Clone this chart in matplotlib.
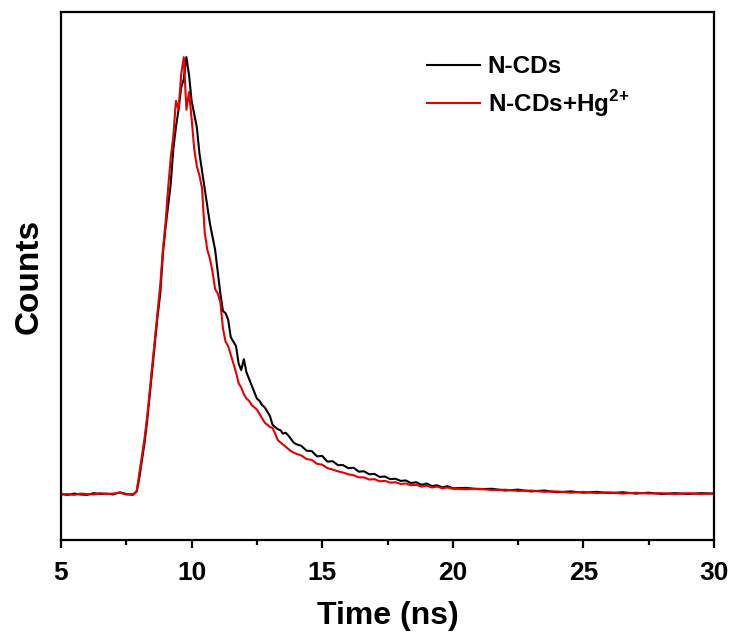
import matplotlib
matplotlib.use("Agg")
import matplotlib.pyplot as plt
import numpy as np

# Time-resolved PL decay, N-CDs with and without Hg2+
# values (normalised counts)

time_ns = [
    5.0, 5.25, 5.5, 5.75, 6.0, 6.25, 6.5, 6.75, 7.0, 7.25, 7.5, 7.75,
    7.8, 7.9, 8.0, 8.1, 8.2, 8.3, 8.4, 8.5, 8.6, 8.7, 8.8, 8.9,
    9.0, 9.1, 9.2, 9.3, 9.4, 9.5, 9.6, 9.7, 9.8, 9.9,
    10.0, 10.1, 10.2, 10.3, 10.4, 10.5, 10.6, 10.7, 10.8, 10.9,
    11.0, 11.1, 11.2, 11.3, 11.4, 11.5, 11.6, 11.7, 11.8, 11.9,
    12.0, 12.1, 12.2, 12.3, 12.4, 12.5, 12.6, 12.7, 12.8, 12.9,
    13.0, 13.1, 13.2, 13.3, 13.4, 13.5, 13.6, 13.7, 13.8, 13.9, 14.0,
    14.2, 14.4, 14.6, 14.8, 15.0, 15.2, 15.4, 15.6, 15.8, 16.0,
    16.2, 16.4, 16.6, 16.8, 17.0, 17.2, 17.4, 17.6, 17.8, 18.0,
    18.2, 18.4, 18.6, 18.8, 19.0, 19.2, 19.4, 19.6, 19.8, 20.0,
    20.5, 21.0, 21.5, 22.0, 22.5, 23.0, 23.5, 24.0, 24.5, 25.0,
    25.5, 26.0, 26.5, 27.0, 27.5, 28.0, 28.5, 29.0, 29.5, 30.0,
]

counts_ncds = [
    0.002, 0.000, 0.003, 0.001, 0.000, 0.004, 0.002, 0.003, 0.001, 0.006, 0.002, 0.000,
    0.003, 0.008, 0.04, 0.08, 0.12, 0.17, 0.23, 0.29, 0.35, 0.41, 0.46, 0.55,
    0.61, 0.66, 0.71, 0.79, 0.84, 0.88, 0.93, 0.95, 1.00, 0.96,
    0.90, 0.87, 0.84, 0.78, 0.74, 0.70, 0.66, 0.62, 0.59, 0.56,
    0.51, 0.46, 0.42, 0.415, 0.40, 0.36, 0.35, 0.34, 0.30, 0.285,
    0.31, 0.28, 0.265, 0.25, 0.235, 0.22, 0.215, 0.205, 0.20, 0.19,
    0.18, 0.16, 0.155, 0.15, 0.148, 0.14, 0.142, 0.136, 0.128, 0.12, 0.116,
    0.112, 0.101, 0.100, 0.088, 0.089, 0.076, 0.077, 0.068, 0.068, 0.061,
    0.062, 0.053, 0.054, 0.047, 0.048, 0.041, 0.042, 0.036, 0.037, 0.032,
    0.033, 0.027, 0.029, 0.023, 0.026, 0.020, 0.022, 0.017, 0.020, 0.015,
    0.016, 0.013, 0.014, 0.010, 0.012, 0.008, 0.010, 0.006, 0.008, 0.005,
    0.007, 0.004, 0.006, 0.003, 0.005, 0.002, 0.004, 0.002, 0.004, 0.003,
]

counts_ncds_hg = [
    0.001, 0.002, 0.000, 0.003, 0.002, 0.001, 0.004, 0.002, 0.003, 0.005, 0.001, 0.002,
    0.002, 0.01, 0.05, 0.09, 0.13, 0.18, 0.24, 0.30, 0.36, 0.42, 0.48, 0.56,
    0.62, 0.70, 0.77, 0.82, 0.90, 0.88, 0.96, 1.00, 0.88, 0.92,
    0.86, 0.79, 0.75, 0.73, 0.70, 0.60, 0.56, 0.54, 0.51, 0.47,
    0.46, 0.44, 0.38, 0.35, 0.34, 0.32, 0.30, 0.28, 0.255, 0.245,
    0.23, 0.22, 0.215, 0.205, 0.20, 0.195, 0.185, 0.175, 0.165, 0.16,
    0.155, 0.153, 0.14, 0.125, 0.12, 0.115, 0.11, 0.105, 0.10, 0.097, 0.094,
    0.090, 0.082, 0.080, 0.071, 0.069, 0.061, 0.058, 0.054, 0.051, 0.047,
    0.045, 0.040, 0.040, 0.035, 0.036, 0.031, 0.032, 0.028, 0.029, 0.025,
    0.026, 0.022, 0.023, 0.019, 0.021, 0.017, 0.019, 0.015, 0.017, 0.014,
    0.013, 0.014, 0.011, 0.012, 0.009, 0.010, 0.007, 0.008, 0.005, 0.007,
    0.004, 0.006, 0.003, 0.005, 0.003, 0.004, 0.002, 0.004, 0.002, 0.003,
]

x_ticks = [5, 10, 15, 20, 25, 30]

plt.rcParams["font.family"] = ["Liberation Sans", "DejaVu Sans"]
plt.rcParams["font.weight"] = "bold"
plt.rcParams["mathtext.fontset"] = "custom"
plt.rcParams["mathtext.rm"] = "Liberation Sans:bold"
plt.rcParams["mathtext.bf"] = "Liberation Sans:bold"


def graph():
    fig = plt.figure(figsize=(7.34, 6.43), dpi=100)
    ax = fig.add_axes([0.0831, 0.1602, 0.8897, 0.8211])

    ax.plot(time_ns, counts_ncds, color="black", lw=1.5, label="N-CDs")
    ax.plot(time_ns, counts_ncds_hg, color="#e60000", lw=1.5,
            label=r"N-CDs+Hg$^{\mathbf{2{+}}}$")

    ax.set_xlim(5, 30)
    ax.set_ylim(-0.103, 1.103)
    ax.set_xticks(x_ticks)
    ax.set_xticks(np.array(x_ticks[:-1]) + 2.5, minor=True)
    ax.set_yticks([])

    for s in ax.spines.values():
        s.set_linewidth(1.6)
    ax.tick_params(axis="x", which="major", direction="out", length=6,
                   width=1.6, labelsize=19, pad=9)
    ax.tick_params(axis="x", which="minor", direction="out", length=3.5,
                   width=1.6)
    for lab in ax.get_xticklabels():
        lab.set_fontweight("bold")

    ax.set_xlabel("Time (ns)", fontsize=23, fontweight="bold", labelpad=12)
    ax.set_ylabel("Counts", fontsize=24, fontweight="bold", labelpad=12)

    ax.legend(loc="upper left", bbox_to_anchor=(0.5605, 0.918), frameon=False,
              handlelength=2.2, handletextpad=0.3,
              labelspacing=0.4, borderpad=0, borderaxespad=0,
              prop={"weight": "bold", "size": 17.5})

    fig.savefig("out.png", dpi=100)


def main():
    graph()


if __name__ == "__main__":
    main()
